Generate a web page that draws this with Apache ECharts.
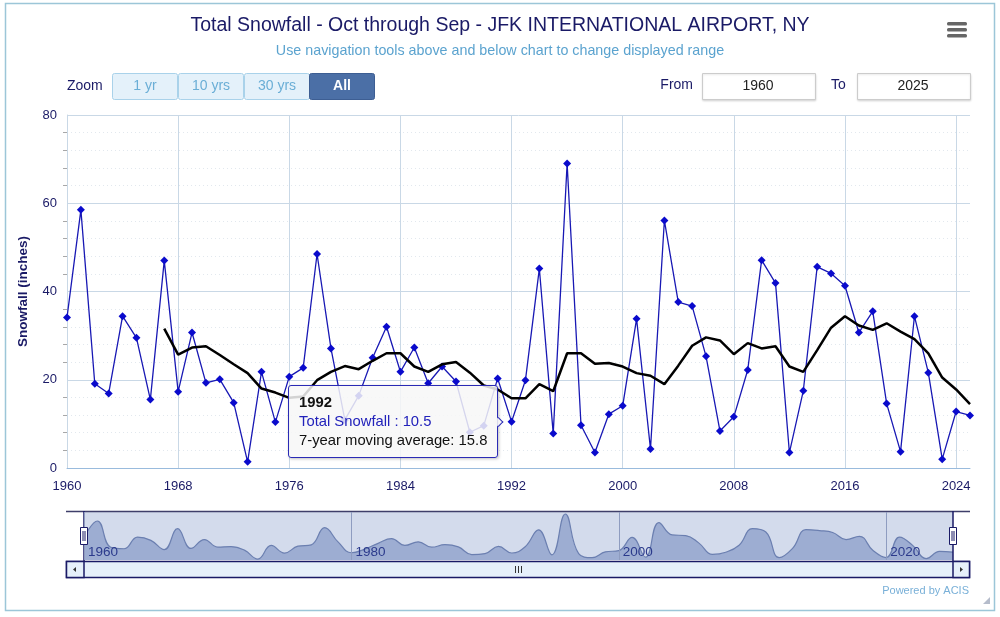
<!DOCTYPE html>
<html>
<head>
<meta charset="utf-8">
<script src="https://cdn.jsdelivr.net/npm/echarts@6/dist/echarts.min.js"></script>
<style>
html,body{margin:0;padding:0;background:#fff;}
#c{width:1000px;height:617px;}
</style>
</head>
<body>
<div id="c"></div>
<script>
// ---- data ----
const startYear = 1960;
const snowfall = [34.1,58.5,19.1,16.9,34.4,29.5,15.5,47.0,17.3,30.7,
  19.3,20.1,14.8,1.4,21.8,10.4,20.7,22.7,48.5,27.1,
  10.9,16.4,25.0,32.0,21.8,27.3,19.2,23.0,19.6,8.1,
  9.6,20.3,10.5,19.9,45.2,7.8,69.0,9.7,3.5,12.2,
  14.1,33.8,4.3,56.1,37.6,36.7,25.3,8.4,11.6,22.2,
  47.1,41.9,3.5,17.5,45.6,44.1,41.3,30.7,35.5,14.6,
  3.7,34.4,21.6,2.0,12.8,11.9];
const maStartYear = 1967;
const movingAvg = [31.6,25.7,27.3,27.6,25.6,23.5,21.5,18.0,17.1,15.9,
  16.2,19.9,21.8,23.1,22.4,24.3,26.0,26.0,23.0,21.8,
  23.5,24.0,21.6,18.7,17.8,15.8,15.8,19.0,17.4,26.0,
  26.0,23.6,23.8,23.0,21.5,20.9,19.0,23.2,27.7,29.6,
  28.9,25.8,28.3,27.1,27.6,23.0,21.8,26.7,31.8,34.4,
  32.3,31.3,32.8,30.9,29.2,26.0,20.5,17.8,14.5];
const xTicks = [1960,1968,1976,1984,1992,2000,2008,2016,2024];
const navTicks = [1960,1980,2000,2020];
const yTicks = [0,20,40,60,80];
const tipYear = 1992;

const snowPts = snowfall.map((v,i)=>[startYear+i,v]);
const maPts = movingAvg.map((v,i)=>[maStartYear+i,v]);
const maByYear = {};
maPts.forEach(p=>{maByYear[p[0]]=p[1];});

const FONT = '"Liberation Sans", Arial, Helvetica, sans-serif';
const NAVY = '#1a1a66';

const chart = echarts.init(document.getElementById('c'), null, {renderer:'canvas'});

function button(x,label,active){
  return {
    type:'group', left:x, top:73,
    children:[
      {type:'rect', shape:{x:0,y:0,width:65,height:26,r:2},
       style:{fill: active?'#4b6fa6':'#e4f1fa', stroke: active?'#3d5e93':'#a9d2ea', lineWidth:1}},
      {type:'text', style:{x:32.5,y:13,text:label,align:'center',verticalAlign:'middle',
        font:(active?'bold ':'')+'14px '+FONT, fill: active?'#ffffff':'#6aaed6'}}
    ]
  };
}

const option = {
  animation:false,
  backgroundColor:'#fff',
  title:{
    text:'Total Snowfall - Oct through Sep - JFK INTERNATIONAL AIRPORT, NY',
    subtext:'Use navigation tools above and below chart to change displayed range',
    left:'center', top:11, itemGap:8,
    textStyle:{fontFamily:FONT,fontSize:19.5,fontWeight:'normal',color:NAVY},
    subtextStyle:{fontFamily:FONT,fontSize:14.3,color:'#5ba3cf'}
  },
  tooltip:{
    trigger:'item', position:'left', alwaysShowContent:true, transitionDuration:0,
    backgroundColor:'rgba(247,247,247,0.85)', borderColor:'#2a2ab5', borderWidth:1,
    padding:[7,10],
    textStyle:{fontFamily:FONT,fontSize:14.8,color:'#111'},
    extraCssText:'border-radius:3px;box-shadow:1px 1px 3px rgba(0,0,0,0.25);line-height:19px;',
    formatter:function(p){
      const yr=p.data[0];
      return '<b>'+yr+'</b><br/><span style="color:#2222bb">Total Snowfall : '+p.data[1].toFixed(1)+
        '</span><br/>7-year moving average: '+(maByYear[yr]!==undefined?maByYear[yr].toFixed(1):'');
    }
  },
  grid:[
    {left:67, top:115, width:903, height:353},
    {left:84, top:512, width:869, height:48, show:true, backgroundColor:'#d3dbec', borderWidth:0}
  ],
  xAxis:[
    {type:'value', gridIndex:0, min:1960, max:2025, interval:8,
     axisLine:{show:true,onZero:false,lineStyle:{color:'#99bbdd',width:1}},
     axisTick:{show:false, customValues:xTicks},
     axisLabel:{customValues:xTicks, formatter:v=>String(v), color:NAVY, fontFamily:FONT, fontSize:13, margin:12},
     splitLine:{show:true,lineStyle:{color:'#c9d8e6',width:1}}
    },
    {type:'value', gridIndex:1, min:1960, max:2025, interval:20, z:10,
     axisLine:{show:false}, axisTick:{show:false, customValues:navTicks},
     axisLabel:{customValues:navTicks, formatter:v=>String(v), inside:true, align:'left', verticalAlign:'bottom', margin:1,
       padding:[0,0,0,4], color:'#2b3a8c', fontFamily:FONT, fontSize:13.5},
     splitLine:{show:true,lineStyle:{color:'#8e9cc0',width:1}}
    }
  ],
  yAxis:[
    {type:'value', gridIndex:0, min:0, max:80, interval:20,
     name:'Snowfall (inches)', nameLocation:'middle', nameGap:37,
     nameTextStyle:{fontFamily:FONT,fontSize:13.5,fontWeight:'bold',color:NAVY},
     axisLine:{show:true,lineStyle:{color:'#c9d8e6'}},
     axisTick:{show:false},
     minorTick:{show:true,splitNumber:5,length:4,lineStyle:{color:'#a8a8a8'}},
     axisLabel:{color:NAVY,fontFamily:FONT,fontSize:13,margin:10},
     splitLine:{show:true,lineStyle:{color:'#c9d8e6',width:1}},
     minorSplitLine:{show:true,lineStyle:{color:'#e2e8ee',type:[1,3],width:1}}
    },
    {type:'value', gridIndex:1, min:0, max:72, show:false,
     splitLine:{show:false}}
  ],
  series:[
    {name:'Total Snowfall', type:'line', xAxisIndex:0, yAxisIndex:0, data:snowPts,
     symbol:'diamond', symbolSize:8, showSymbol:true,
     lineStyle:{color:'#1818b4',width:1.3}, itemStyle:{color:'#0a0acc'},
     emphasis:{disabled:true}, z:3},
    {name:'7-year moving average', type:'line', xAxisIndex:0, yAxisIndex:0, data:maPts,
     symbol:'none', lineStyle:{color:'#000',width:2.5}, tooltip:{show:false},
     emphasis:{disabled:true}, silent:true, z:4},
    {name:'nav', type:'line', xAxisIndex:1, yAxisIndex:1, data:snowPts, smooth:0.45,
     symbol:'none', lineStyle:{color:'#6b7fb0',width:1.2},
     areaStyle:{color:'#9dadd2',opacity:1}, tooltip:{show:false}, silent:true,
     emphasis:{disabled:true}}
  ],
  graphic:[
    {type:'rect', shape:{x:5.5,y:3.5,width:989,height:607}, style:{fill:'none',stroke:'#9cc6d8',lineWidth:1.5}, silent:true, z:-1},
    // menu icon
    {type:'rect', shape:{x:947,y:22,width:20,height:3.5,r:1.5}, style:{fill:'#666'}},
    {type:'rect', shape:{x:947,y:28,width:20,height:3.5,r:1.5}, style:{fill:'#666'}},
    {type:'rect', shape:{x:947,y:34,width:20,height:3.5,r:1.5}, style:{fill:'#666'}},
    // zoom buttons
    {type:'text', style:{x:67,y:86,text:'Zoom',verticalAlign:'middle',font:'14px '+FONT,fill:NAVY}},
    button(112,'1 yr',false), button(178,'10 yrs',false), button(244,'30 yrs',false), button(309,'All',true),
    // range inputs
    {type:'text', style:{x:693,y:85,text:'From',align:'right',verticalAlign:'middle',font:'14px '+FONT,fill:NAVY}},
    {type:'rect', shape:{x:702.5,y:73.5,width:113,height:26}, style:{fill:'#fff',stroke:'#cccccc',lineWidth:1,shadowColor:'rgba(0,0,0,0.12)',shadowBlur:2,shadowOffsetY:1}},
    {type:'text', style:{x:758,y:86,text:'1960',align:'center',verticalAlign:'middle',font:'14px '+FONT,fill:'#222'}},
    {type:'text', style:{x:831,y:85,text:'To',align:'left',verticalAlign:'middle',font:'14px '+FONT,fill:NAVY}},
    {type:'rect', shape:{x:857.5,y:73.5,width:113,height:26}, style:{fill:'#fff',stroke:'#cccccc',lineWidth:1,shadowColor:'rgba(0,0,0,0.12)',shadowBlur:2,shadowOffsetY:1}},
    {type:'text', style:{x:913,y:86,text:'2025',align:'center',verticalAlign:'middle',font:'14px '+FONT,fill:'#222'}},
    // navigator outline + handles
    {type:'line', shape:{x1:66,y1:511.5,x2:970,y2:511.5}, style:{stroke:'#3f3f6a',lineWidth:1.5}, z:10},
    {type:'line', shape:{x1:84,y1:511,x2:84,y2:561}, style:{stroke:NAVY,lineWidth:1.5}, z:10},
    {type:'line', shape:{x1:953,y1:511,x2:953,y2:561}, style:{stroke:NAVY,lineWidth:1.5}, z:10},
    {type:'rect', shape:{x:80.5,y:527.5,width:7,height:17}, style:{fill:'#fff',stroke:NAVY,lineWidth:1}, z:11},
    {type:'line', shape:{x1:83,y1:531,x2:83,y2:541}, style:{stroke:NAVY,lineWidth:1}, z:12},
    {type:'line', shape:{x1:85,y1:531,x2:85,y2:541}, style:{stroke:NAVY,lineWidth:1}, z:12},
    {type:'rect', shape:{x:949.5,y:527.5,width:7,height:17}, style:{fill:'#fff',stroke:NAVY,lineWidth:1}, z:11},
    {type:'line', shape:{x1:952,y1:531,x2:952,y2:541}, style:{stroke:NAVY,lineWidth:1}, z:12},
    {type:'line', shape:{x1:954,y1:531,x2:954,y2:541}, style:{stroke:NAVY,lineWidth:1}, z:12},
    // scrollbar
    {type:'rect', shape:{x:66.5,y:561.5,width:903,height:16}, style:{fill:'#e6f0fa',stroke:NAVY,lineWidth:1.5}, z:10},
    {type:'rect', shape:{x:66.5,y:561.5,width:17.5,height:16}, style:{fill:'#e6f0fa',stroke:NAVY,lineWidth:1.5}, z:11},
    {type:'rect', shape:{x:953,y:561.5,width:16.5,height:16}, style:{fill:'#e6f0fa',stroke:NAVY,lineWidth:1.5}, z:11},
    {type:'polygon', shape:{points:[[73,569.5],[76,567],[76,572]]}, style:{fill:'#333'}, z:12},
    {type:'polygon', shape:{points:[[963,569.5],[960,567],[960,572]]}, style:{fill:'#333'}, z:12},
    {type:'line', shape:{x1:515.5,y1:566,x2:515.5,y2:573}, style:{stroke:'#333',lineWidth:1}, z:12},
    {type:'line', shape:{x1:518.5,y1:566,x2:518.5,y2:573}, style:{stroke:'#333',lineWidth:1}, z:12},
    {type:'line', shape:{x1:521.5,y1:566,x2:521.5,y2:573}, style:{stroke:'#333',lineWidth:1}, z:12},
    // credits
    {type:'text', style:{x:969,y:591,text:'Powered by ACIS',align:'right',verticalAlign:'middle',font:'11px '+FONT,fill:'#79b0d8'}},
    {type:'polygon', shape:{points:[[990,597],[990,604],[983,604]]}, style:{fill:'#b5bccb'}}
  ]
};
chart.setOption(option);
chart.dispatchAction({type:'showTip', seriesIndex:0, dataIndex: tipYear-startYear});
</script>
</body>
</html>
